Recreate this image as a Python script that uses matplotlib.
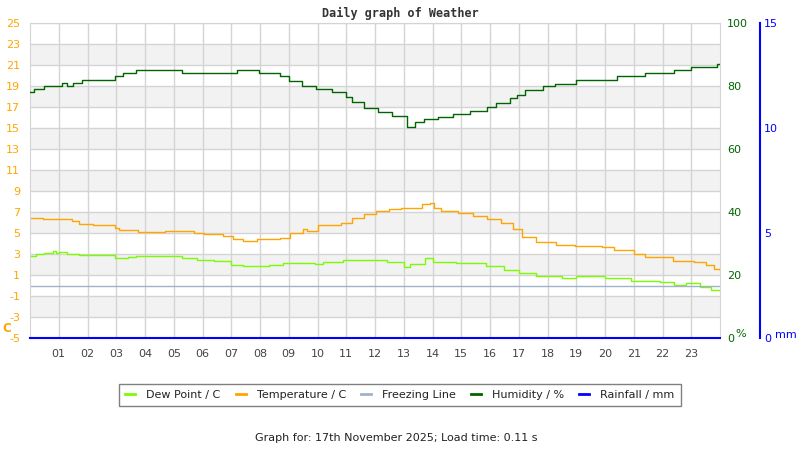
import matplotlib
matplotlib.use("Agg")
import matplotlib.pyplot as plt

plt.rcParams["axes.unicode_minus"] = False

# step readings (hour of day, value)
temp_hours = [0.0, 0.45, 1.45, 1.7, 2.2, 2.95, 3.1, 3.75, 4.7, 5.7, 6.05, 6.7, 7.05, 7.4, 7.9,
              8.7, 9.05, 9.5, 9.65, 10.0, 10.8, 11.2, 11.6, 12.05, 12.5, 12.9, 13.65, 13.9,
              14.05, 14.3, 14.9, 15.4, 15.9, 16.4, 16.8, 17.1, 17.6, 18.3, 18.95, 19.9, 20.3,
              21.0, 21.4, 22.35, 23.1, 23.5, 23.8, 24.0]
temp = [6.45, 6.3, 6.1, 5.85, 5.75, 5.45, 5.25, 5.07, 5.16, 5.0, 4.87, 4.7, 4.4, 4.2, 4.4,
        4.5, 4.97, 5.35, 5.2, 5.75, 5.92, 6.4, 6.8, 7.05, 7.25, 7.38, 7.76, 7.85,
        7.35, 7.13, 6.87, 6.62, 6.3, 5.92, 5.35, 4.6, 4.17, 3.86, 3.76, 3.64, 3.38,
        2.97, 2.74, 2.36, 2.26, 1.95, 1.6, 1.5]

dew_hours = [0.0, 0.2, 0.5, 0.8, 0.9, 1.0, 1.3, 1.7, 2.95, 3.4, 3.7, 5.0, 5.3, 5.8, 6.4, 7.0,
             7.4, 8.3, 8.8, 9.9, 10.2, 10.9, 12.4, 13.0, 13.2, 13.75, 14.0, 14.8, 15.85,
             16.5, 17.0, 17.6, 18.5, 19.0, 20.0, 20.9, 21.9, 22.4, 22.8, 23.3, 23.7, 24.0]
dew = [2.81, 2.97, 3.07, 3.26, 3.07, 3.2, 3.0, 2.9, 2.65, 2.71, 2.78, 2.84, 2.65, 2.43, 2.3, 1.98,
       1.89, 1.95, 2.17, 2.05, 2.2, 2.4, 2.26, 1.79, 2.05, 2.6, 2.2, 2.11, 1.86,
       1.48, 1.16, 0.93, 0.71, 0.9, 0.68, 0.46, 0.36, 0.07, 0.2, -0.11, -0.4, -0.5]

hum_hours = [0.0, 0.15, 0.5, 1.1, 1.3, 1.5, 1.8, 2.95, 3.25, 3.7, 5.3, 7.2, 7.95, 8.7, 9.0,
             9.45, 9.95, 10.5, 11.0, 11.2, 11.6, 12.1, 12.6, 13.1, 13.4, 13.7, 14.2, 14.7,
             15.3, 15.9, 16.2, 16.7, 16.95, 17.2, 17.85, 18.25, 19.0, 20.4, 21.4, 22.4,
             23.0, 23.9, 24.0]
humidity = [78.0, 79.0, 79.9, 80.9, 79.9, 80.9, 81.8, 83.1, 84.0, 85.0, 84.0, 85.0, 84.0, 83.1, 81.5,
            80.0, 79.0, 78.0, 76.6, 75.0, 73.1, 71.8, 70.5, 67.1, 68.7, 69.4, 70.1, 71.1,
            72.1, 73.4, 74.7, 76.1, 77.1, 78.7, 79.9, 80.6, 81.8, 83.1, 84.0, 85.0,
            85.9, 86.9, 86.9]

freeze_hours = [0, 24]
freeze = [0, 0]
rain_hours = [0, 24]
rain = [0, 0]

hour_ticks = list(range(1, 24))
hour_labels = ["%02d" % h for h in hour_ticks]
temp_ticks = list(range(-5, 26, 2))
hum_ticks = [0, 20, 40, 60, 80, 100]
rain_ticks = [0, 5, 10, 15]

c_temp = "#ffa500"
c_dew = "#7cfc00"
c_freeze = "#a0b2c8"
c_hum = "#006400"
c_rain = "#0000ff"
grid = "#d4d4d4"

fig = plt.figure(figsize=(8, 4.5), dpi=100)
ax = fig.add_axes([30 / 800, 112 / 450, 690 / 800, 315 / 450])
ax.set_xlim(0, 24)
ax.set_ylim(-5, 25)

# alternating bands
for lo in range(-3, 25, 4):
    ax.axhspan(lo, lo + 2, color="#f2f2f2", zorder=0, lw=0)
ax.set_yticks(temp_ticks)
ax.set_xticks(hour_ticks)
ax.set_xticklabels(hour_labels)
ax.grid(True, color=grid, lw=1)
ax.set_axisbelow(True)
ax.tick_params(axis="y", length=0, pad=7, labelsize=8, labelcolor=c_temp)
ax.tick_params(axis="x", length=0, pad=8, labelsize=8, labelcolor="#444444")
for s in ax.spines.values():
    s.set_color(grid)

l_dew, = ax.plot(dew_hours, dew, drawstyle="steps-post", color=c_dew, lw=1, label="Dew Point / C")
l_temp, = ax.plot(temp_hours, temp, drawstyle="steps-post", color=c_temp, lw=1, label="Temperature / C")
l_fr, = ax.plot(freeze_hours, freeze, color=c_freeze, lw=1, label="Freezing Line")

axh = ax.twinx()
axh.set_ylim(0, 100)
axh.set_yticks(hum_ticks)
axh.tick_params(axis="y", length=0, pad=5, labelsize=8, labelcolor=c_hum)
for s in axh.spines.values():
    s.set_visible(False)
l_hum, = axh.plot(hum_hours, humidity, drawstyle="steps-post", color=c_hum, lw=1, label="Humidity / %")

axr = ax.twinx()
axr.set_ylim(0, 15)
axr.set_yticks(rain_ticks)
axr.spines["right"].set_position(("axes", 1 + 40 / 690))
for k in ["top", "left", "bottom"]:
    axr.spines[k].set_visible(False)
axr.spines["right"].set_color(c_rain)
axr.spines["right"].set_linewidth(1.5)
axr.tick_params(axis="y", length=0, pad=3, labelsize=8, labelcolor=c_rain)
l_rain, = axr.plot(rain_hours, rain, color=c_rain, lw=1.5, clip_on=False, label="Rainfall / mm")

fig.text(0.5, 1 - 13 / 450, "Daily graph of Weather", ha="center", va="center",
         family="DejaVu Sans Mono", weight="bold", fontsize=8.5, color="#333333")
fig.text(2 / 800, 1 - 328 / 450, "C", ha="left", va="center", color=c_temp,
         weight="bold", fontsize=8.5)
fig.text(735 / 800, 1 - 334 / 450, "%", ha="left", va="center", color=c_hum, fontsize=8)
fig.text(775 / 800, 1 - 335 / 450, "mm", ha="left", va="center", color=c_rain, fontsize=8)

leg = fig.legend(handles=[l_dew, l_temp, l_fr, l_hum, l_rain], ncol=5,
                 loc="center", bbox_to_anchor=(0.5, 1 - 395 / 450), fontsize=8,
                 handlelength=0.9, handletextpad=1.0, columnspacing=1.35,
                 fancybox=False, edgecolor="#808080", framealpha=1, borderpad=0.55)
leg.get_frame().set_linewidth(1)
for h in leg.legend_handles:
    h.set_linewidth(2)
for t in leg.get_texts():
    t.set_color("#222222")

fig.text(0.495, 1 - 438 / 450, "Graph for: 17th November 2025; Load time: 0.11 s",
         ha="center", va="center", fontsize=8, color="#222222")

fig.savefig("out.png", dpi=100)
